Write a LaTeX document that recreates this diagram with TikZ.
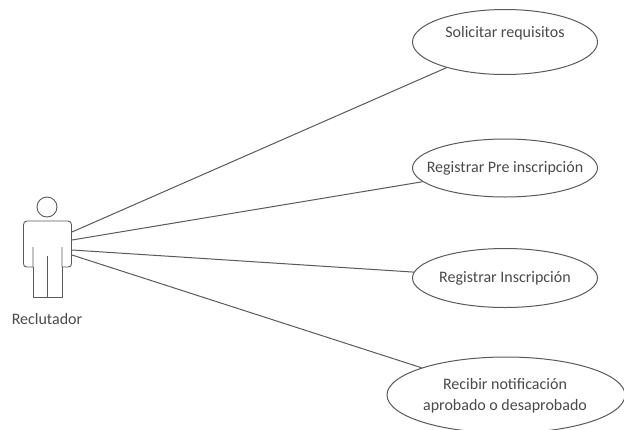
\documentclass[tikz,border=0pt]{standalone}
\usepackage{fontspec}
\setmainfont{Carlito}
\usetikzlibrary{shapes.geometric}
\definecolor{ink}{HTML}{5A5A5A}
\definecolor{txt}{HTML}{4A4A4A}
\tikzset{
  usecase/.style={draw=ink,line width=1pt,ellipse,inner sep=0pt,minimum width=185pt,fill=white},
  assoc/.style={draw=ink,line width=1pt},
  actorline/.style={draw=ink,line width=0.9pt,line join=round},
  lbl/.style={text=txt,font=\fontsize{16pt}{21pt}\selectfont,align=center,inner sep=0pt}
}
\begin{document}
\begin{tikzpicture}[x=1pt,y=-1pt]
\useasboundingbox (0,0) rectangle (624,429);
\fill[white] (0,0) rectangle (624,429);
% connector ends on the actor
\coordinate (a1) at (72,232);
\coordinate (a2) at (72,240);
\coordinate (a3) at (72,250);
\coordinate (a4) at (72,255);
% use cases
\node[usecase,minimum height=65pt] (e1) at (505,42) {};
\node[usecase,minimum height=58pt] (e2) at (505,168) {};
\node[usecase,minimum height=59pt] (e3) at (505,278) {};
\node[usecase,minimum width=238pt,minimum height=76pt] (e4) at (506,395) {};
\node[lbl] (t1) at (505,33) {Solicitar requisitos};
\node[lbl] (t2) at (505,168) {Registrar Pre inscripción};
\node[lbl] (t3) at (505,278) {Registrar Inscripción};
\node[lbl] (t4) at (505,395.5) {Recibir notificación\\aprobado o desaprobado};
% associations
\draw[assoc] (a1) -- (e1);
\draw[assoc] (a2) -- (e2);
\draw[assoc] (a3) -- (e3);
\draw[assoc] (a4) -- (e4);
% actor
\node[draw=ink,line width=0.9pt,circle,minimum size=20pt,inner sep=0pt] (head) at (47,207) {};
\draw[actorline] (33,247) -- (33,267) -- (27,267) .. controls (24.5,267) and (23.5,266) .. (23.5,263.5)
  -- (23.5,225) .. controls (23.5,222.5) and (24.5,221) .. (27,221) -- (68,221)
  .. controls (70.5,221) and (71.5,222.5) .. (71.5,225) -- (71.5,263.5)
  .. controls (71.5,266) and (70.5,267) .. (68,267) -- (62,267) -- (62,247);
\draw[actorline] (33,267) -- (33,297) -- (62,297) -- (62,267);
\draw[actorline] (47,256) -- (47,297);
\node[lbl] (actorname) at (47,319) {Reclutador};
\end{tikzpicture}
\end{document}
